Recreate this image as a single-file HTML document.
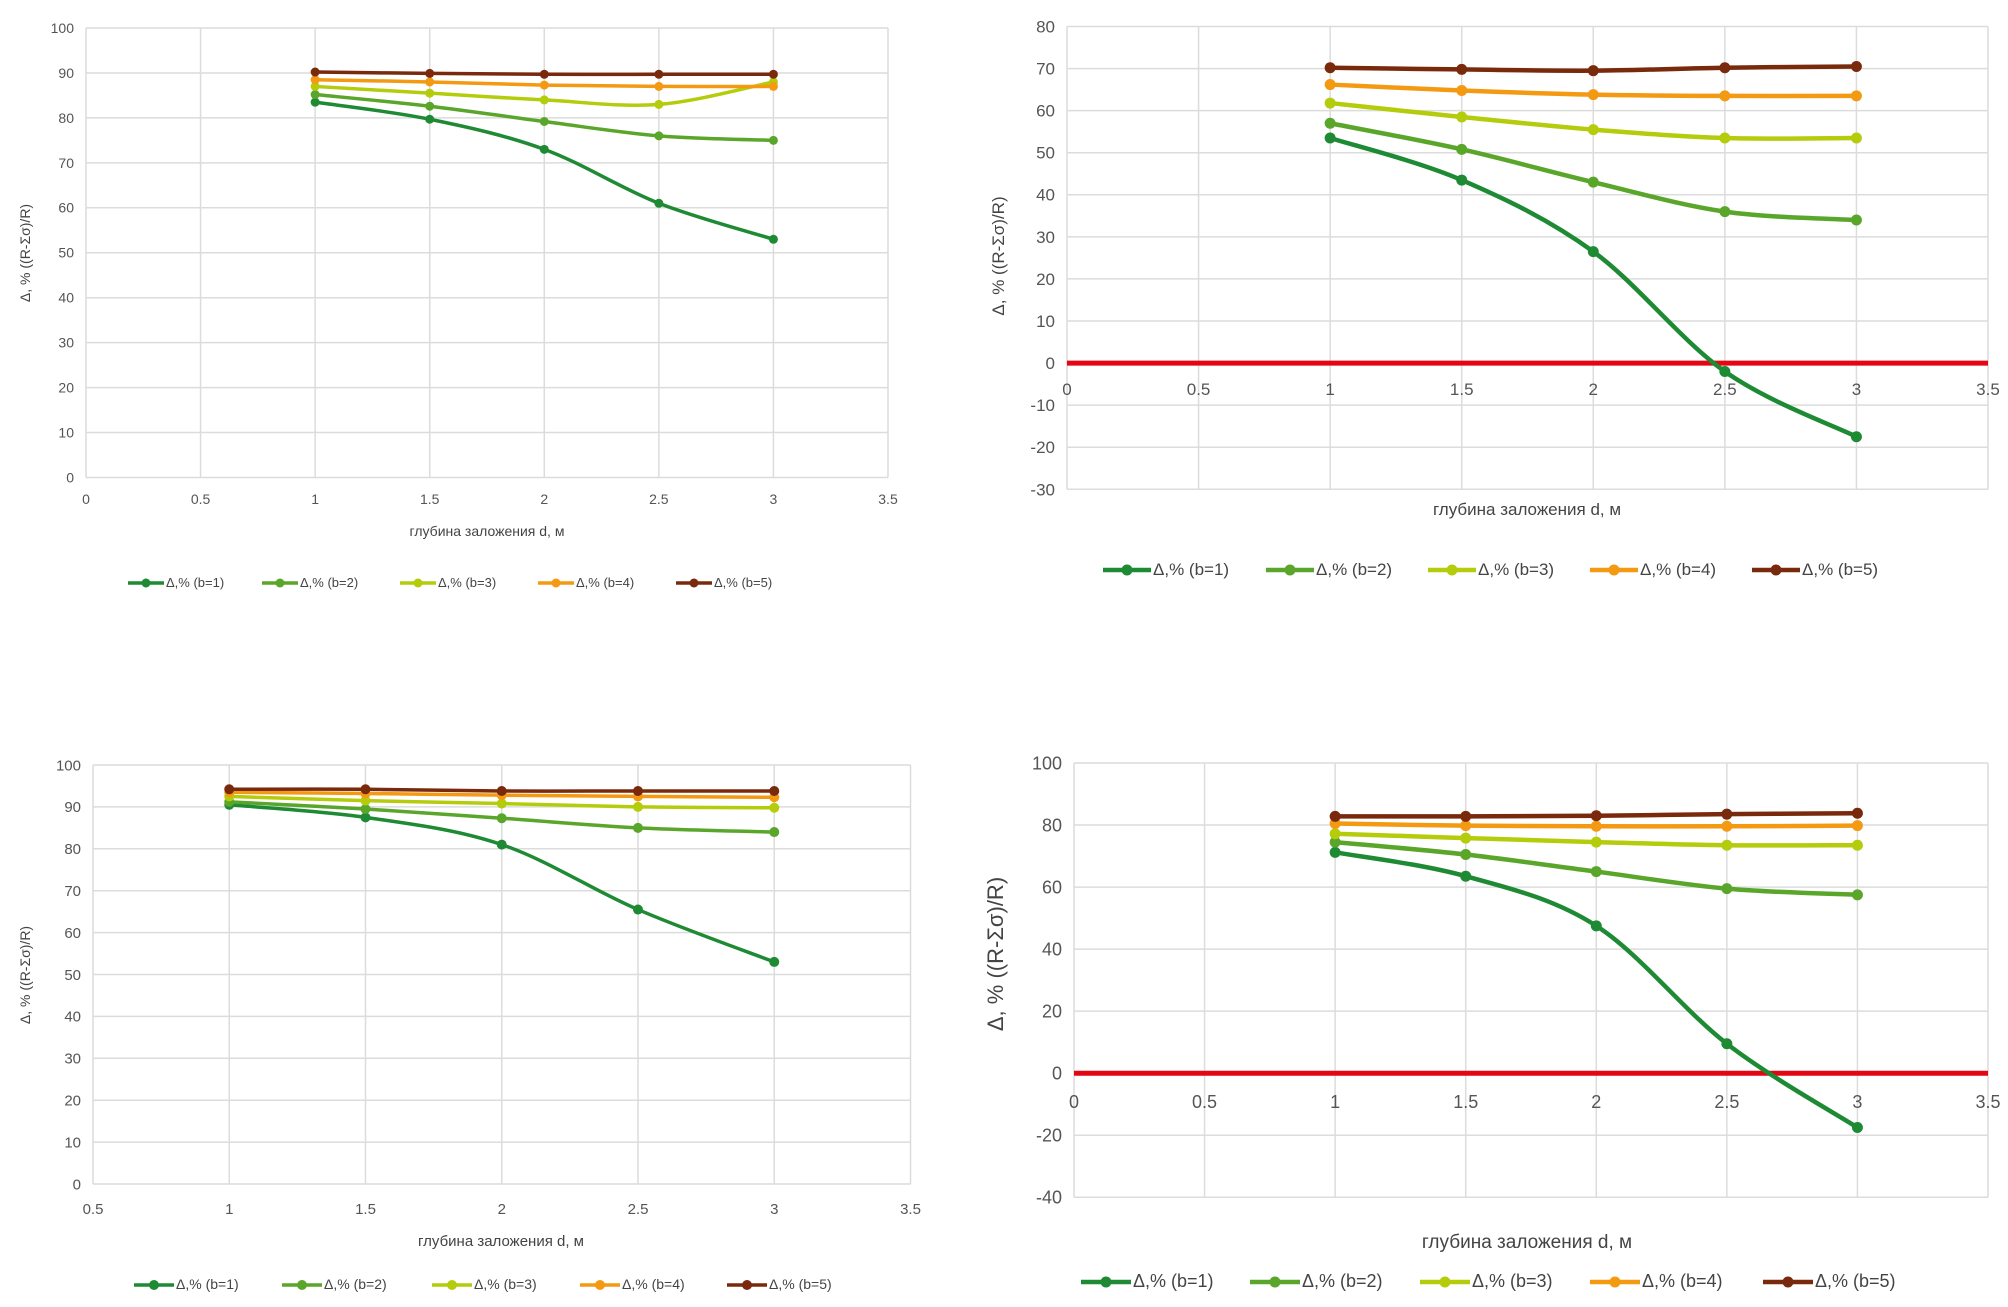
<!DOCTYPE html>
<html><head><meta charset="utf-8">
<style>
html,body{margin:0;padding:0;background:#fff;}
svg{display:block;font-family:"Liberation Sans",sans-serif;}
</style></head>
<body>
<svg id="s" width="2008" height="1307" viewBox="0 0 2008 1307" xmlns="http://www.w3.org/2000/svg">
<rect width="2008" height="1307" fill="#fff"/>
<g id="plots"></g>
<!-- Chart 1 texts -->
<text x="0" y="0" transform="translate(30,253) rotate(-90)" text-anchor="middle" font-size="14" fill="#444">Δ,  % ((R-Σσ)/R)</text>
<text x="487" y="536" text-anchor="middle" font-size="14" fill="#444">глубина заложения d, м</text>
<!-- Chart 2 texts -->
<text x="0" y="0" transform="translate(1004,256) rotate(-90)" text-anchor="middle" font-size="17" fill="#444">Δ, % ((R-Σσ)/R)</text>
<text x="1527" y="515" text-anchor="middle" font-size="17" fill="#444">глубина заложения d, м</text>
<!-- Chart 3 texts -->
<text x="0" y="0" transform="translate(30,975) rotate(-90)" text-anchor="middle" font-size="14" fill="#444">Δ, % ((R-Σσ)/R)</text>
<text x="501" y="1246" text-anchor="middle" font-size="15" fill="#444">глубина заложения d, м</text>
<!-- Chart 4 texts -->
<text x="0" y="0" transform="translate(1003,954) rotate(-90)" text-anchor="middle" font-size="22" fill="#444">Δ, % ((R-Σσ)/R)</text>
<text x="1527" y="1248" text-anchor="middle" font-size="19" fill="#444">глубина заложения d, м</text>
<g id="leg"></g>
</svg>
<script>
var C=["#1e8a34","#5aa62a","#b4cc0c","#f39a12","#7a2a0c"];
var charts=[
{x0:86,x1:888,xmin:0,xmax:3.5,ytop:28,ybot:477.5,ymin:0,ymax:100,ystep:10,fs:14,tly:504,lw:3.5,mr:4.5,red:false,
 d:[[83.5,79.7,73,61,53],[85.2,82.6,79.2,76,75],[87,85.5,84,83,88],[88.5,88,87.3,87,87],[90.2,89.9,89.7,89.7,89.7]],
 leg:{y:583,xs:[128,262,400,538,676],fs:13,len:36}},
{x0:1067,x1:1988,xmin:0,xmax:3.5,ytop:26.5,ybot:489.3,ymin:-30,ymax:80,ystep:10,fs:17,tly:395,lw:4.5,mr:5.5,red:true,
 d:[[53.5,43.5,26.5,-2,-17.5],[57,50.8,43,36,34],[61.8,58.5,55.5,53.5,53.5],[66.2,64.8,63.8,63.5,63.5],[70.2,69.8,69.5,70.2,70.5]],
 leg:{y:570,xs:[1103,1266,1428,1590,1752],fs:17,len:48}},
{x0:93,x1:910.5,xmin:0.5,xmax:3.5,ytop:765,ybot:1184,ymin:0,ymax:100,ystep:10,fs:15,tly:1214,lw:3.5,mr:5,red:false,
 d:[[90.5,87.5,81,65.5,53],[91.2,89.5,87.3,85,84],[92.5,91.5,90.8,90,89.8],[93.5,93.2,92.8,92.5,92.3],[94.2,94.2,93.8,93.8,93.8]],
 leg:{y:1285,xs:[134,282,432,580,727],fs:14,len:40}},
{x0:1074,x1:1988,xmin:0,xmax:3.5,ytop:763,ybot:1197.3,ymin:-40,ymax:100,ystep:20,fs:18,tly:1108,lw:4.5,mr:5.5,red:true,
 d:[[71.2,63.5,47.5,9.5,-17.5],[74.5,70.5,65,59.5,57.5],[77.2,75.8,74.5,73.5,73.5],[80.5,79.8,79.6,79.6,79.8],[82.8,82.8,83,83.5,83.8]],
 leg:{y:1282,xs:[1081,1250,1420,1590,1763],fs:18,len:50}}
];
var out="",lg="";
charts.forEach(function(c){
 function X(v){return c.x0+(v-c.xmin)/(c.xmax-c.xmin)*(c.x1-c.x0);}
 function Y(v){return c.ybot-(v-c.ymin)/(c.ymax-c.ymin)*(c.ybot-c.ytop);}
 for(var v=c.ymin;v<=c.ymax+1e-9;v+=c.ystep){var y=Y(v);
  out+='<line x1="'+c.x0+'" x2="'+c.x1+'" y1="'+y+'" y2="'+y+'" stroke="#dcdcdc" stroke-width="1.5"/>';
  out+='<text x="'+(c.x0-12)+'" y="'+(y+c.fs*0.35)+'" text-anchor="end" font-size="'+c.fs+'" fill="#555">'+v+'</text>';}
 for(var v=c.xmin;v<=c.xmax+1e-9;v+=0.5){var x=X(v);
  out+='<line x1="'+x+'" x2="'+x+'" y1="'+c.ytop+'" y2="'+c.ybot+'" stroke="#dcdcdc" stroke-width="1.5"/>';
  out+='<text x="'+x+'" y="'+c.tly+'" text-anchor="middle" font-size="'+c.fs+'" fill="#555">'+v+'</text>';}
 if(c.red){var y0=Y(0);out+='<line x1="'+c.x0+'" x2="'+c.x1+'" y1="'+y0+'" y2="'+y0+'" stroke="#e30613" stroke-width="5"/>';}
 var xs=[1,1.5,2,2.5,3];
 c.d.forEach(function(s,i){
  var p=s.map(function(v,k){return [X(xs[k]),Y(v)];});
  var d="M"+p[0][0]+","+p[0][1];
  for(var k=0;k<p.length-1;k++){
   var p0=p[k-1]||p[k],p1=p[k],p2=p[k+1],p3=p[k+2]||p2,t=1/6;
   d+=" C"+(p1[0]+(p2[0]-p0[0])*t)+","+(p1[1]+(p2[1]-p0[1])*t)+" "+(p2[0]-(p3[0]-p1[0])*t)+","+(p2[1]-(p3[1]-p1[1])*t)+" "+p2[0]+","+p2[1];
  }
  out+='<path d="'+d+'" fill="none" stroke="'+C[i]+'" stroke-width="'+c.lw+'"/>';
  p.forEach(function(q){out+='<circle cx="'+q[0]+'" cy="'+q[1]+'" r="'+c.mr+'" fill="'+C[i]+'"/>';});
 });
 var L=c.leg;
 L.xs.forEach(function(x,i){
  out+='<line x1="'+x+'" x2="'+(x+L.len)+'" y1="'+L.y+'" y2="'+L.y+'" stroke="'+C[i]+'" stroke-width="'+c.lw+'"/>';
  out+='<circle cx="'+(x+L.len/2)+'" cy="'+L.y+'" r="'+c.mr+'" fill="'+C[i]+'"/>';
 });
});
document.getElementById("plots").innerHTML=out;
</script>
<svg width="0" height="0" style="position:absolute"></svg>
<div style="position:absolute;left:0;top:0;width:2008px;height:1307px;pointer-events:none;font-family:'Liberation Sans',sans-serif;color:#444;">
<span style="position:absolute;left:166px;top:575px;font-size:13px;">Δ,% (b=1)</span>
<span style="position:absolute;left:300px;top:575px;font-size:13px;">Δ,% (b=2)</span>
<span style="position:absolute;left:438px;top:575px;font-size:13px;">Δ,% (b=3)</span>
<span style="position:absolute;left:576px;top:575px;font-size:13px;">Δ,% (b=4)</span>
<span style="position:absolute;left:714px;top:575px;font-size:13px;">Δ,% (b=5)</span>

<span style="position:absolute;left:1153px;top:560px;font-size:17px;">Δ,% (b=1)</span>
<span style="position:absolute;left:1316px;top:560px;font-size:17px;">Δ,% (b=2)</span>
<span style="position:absolute;left:1478px;top:560px;font-size:17px;">Δ,% (b=3)</span>
<span style="position:absolute;left:1640px;top:560px;font-size:17px;">Δ,% (b=4)</span>
<span style="position:absolute;left:1802px;top:560px;font-size:17px;">Δ,% (b=5)</span>

<span style="position:absolute;left:176px;top:1276px;font-size:14px;">Δ,% (b=1)</span>
<span style="position:absolute;left:324px;top:1276px;font-size:14px;">Δ,% (b=2)</span>
<span style="position:absolute;left:474px;top:1276px;font-size:14px;">Δ,% (b=3)</span>
<span style="position:absolute;left:622px;top:1276px;font-size:14px;">Δ,% (b=4)</span>
<span style="position:absolute;left:769px;top:1276px;font-size:14px;">Δ,% (b=5)</span>

<span style="position:absolute;left:1133px;top:1271px;font-size:18px;">Δ,% (b=1)</span>
<span style="position:absolute;left:1302px;top:1271px;font-size:18px;">Δ,% (b=2)</span>
<span style="position:absolute;left:1472px;top:1271px;font-size:18px;">Δ,% (b=3)</span>
<span style="position:absolute;left:1642px;top:1271px;font-size:18px;">Δ,% (b=4)</span>
<span style="position:absolute;left:1815px;top:1271px;font-size:18px;">Δ,% (b=5)</span>
</div>
</body></html>
